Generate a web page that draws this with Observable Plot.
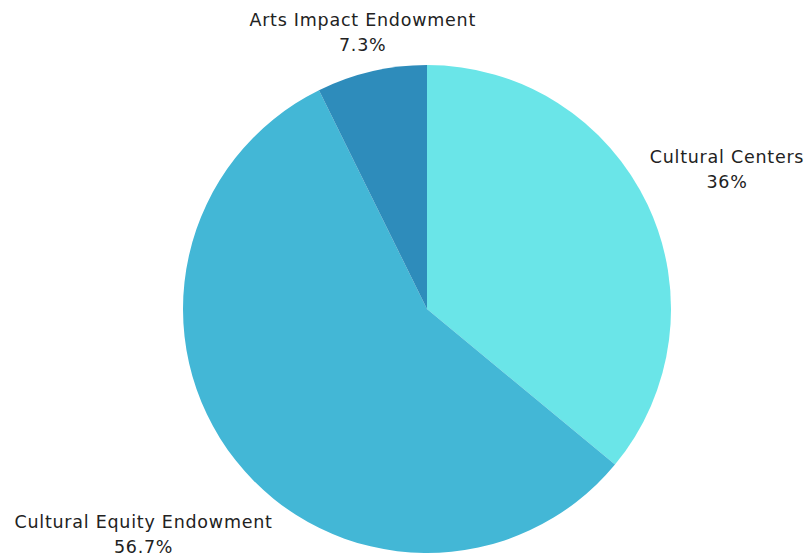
<!DOCTYPE html>
<html>
<head>
<meta charset="utf-8">
<script src="https://cdn.jsdelivr.net/npm/d3@7"></script>
<script src="https://cdn.jsdelivr.net/npm/@observablehq/plot@0.6"></script>
<style>
  html, body { margin: 0; padding: 0; background: #fff; }
  #chart svg { display: block; }
</style>
</head>
<body>
<div id="chart"></div>
<script>
// ---- data ----
const categories = ["Cultural Centers", "Cultural Equity Endowment", "Arts Impact Endowment"];
const shares = [36, 56.7, 7.3];
const valueLabels = ["36%", "56.7%", "7.3%"];
const colors = ["#6ae5e8", "#43b7d6", "#2e8cbb"];

// ---- layout (not data) ----
const W = 809, H = 556;
const cx = 427, cy = 309, R = 244;
const labelDist = [331, 362, 285];

const pie = d3.pie().sort(null).value(d => d.share)
  (categories.map((c, i) => ({category: c, share: shares[i], label: valueLabels[i], i})));

const labelData = pie.map(a => {
  const mid = (a.startAngle + a.endAngle) / 2;
  const r = labelDist[a.data.i];
  return {
    text: a.data.category + "\n" + a.data.label,
    x: r * Math.sin(mid),
    y: -r * Math.cos(mid)
  };
});

function pieMark(index, scales, values, dimensions) {
  const ns = "http://www.w3.org/2000/svg";
  const g = document.createElementNS(ns, "g");
  const x0 = scales.x(0), y0 = scales.y(0);
  const rpx = scales.x(R) - scales.x(0);
  const arc = d3.arc().innerRadius(0).outerRadius(rpx);
  for (const a of pie) {
    const p = document.createElementNS(ns, "path");
    p.setAttribute("d", arc(a));
    p.setAttribute("transform", `translate(${x0},${y0})`);
    p.setAttribute("fill", scales.color(a.data.category));
    g.appendChild(p);
  }
  return g;
}

const chart = Plot.plot({
  width: W,
  height: H,
  margin: 0,
  x: {domain: [-cx, W - cx], range: [0, W], axis: null},
  y: {domain: [-cy, H - cy], range: [0, H], axis: null},
  color: {domain: categories, range: colors},
  style: {fontFamily: "'DejaVu Sans', sans-serif", background: "#fff", letterSpacing: "0.75px"},
  marks: [
    pieMark,
    Plot.text(labelData, {
      x: "x", y: "y", text: "text", dy: -1.5,
      fontSize: 17.5, fill: "#222", lineHeight: 1.43, textAnchor: "middle"
    })
  ]
});
document.getElementById("chart").appendChild(chart);
</script>
</body>
</html>
